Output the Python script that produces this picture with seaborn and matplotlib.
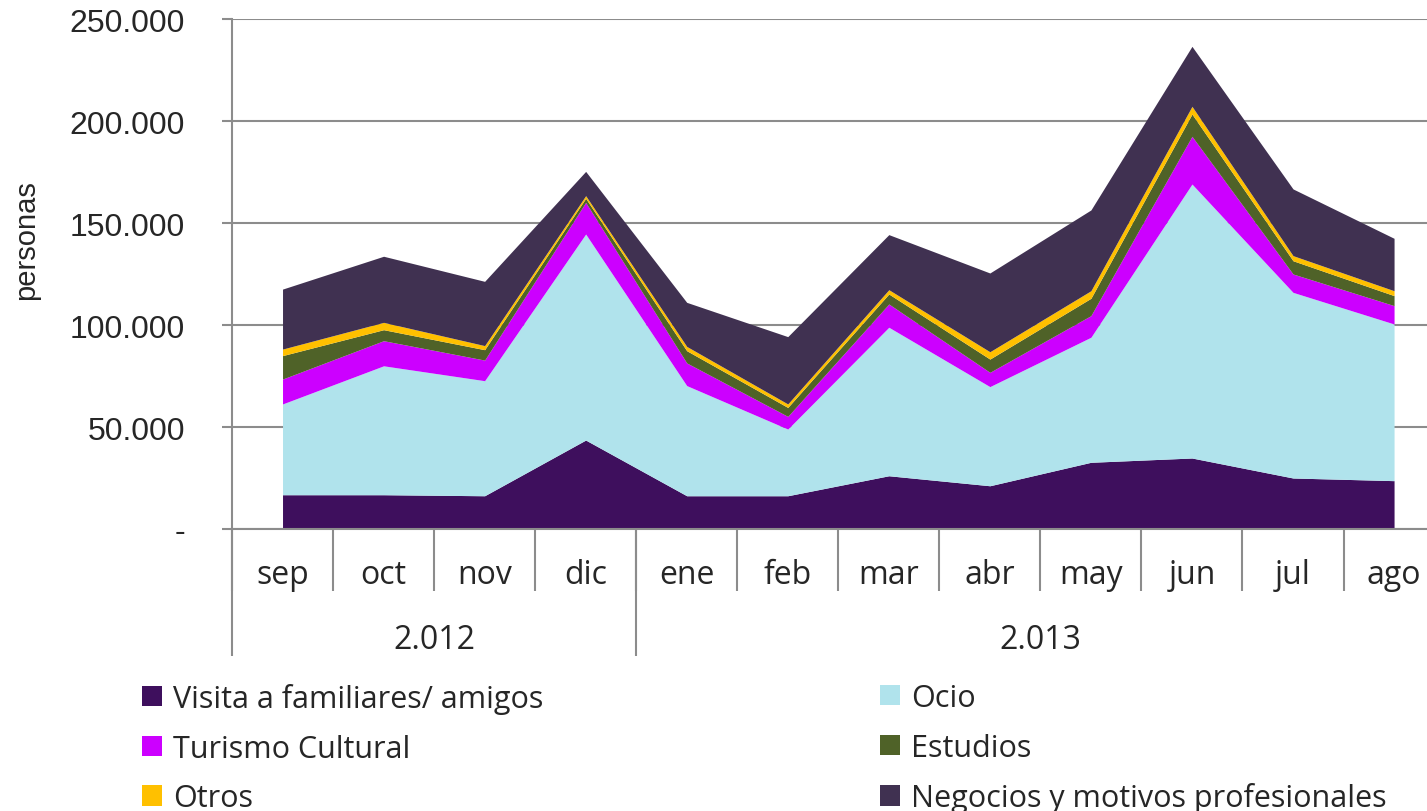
import numpy as np
import pandas as pd
import matplotlib
matplotlib.use("Agg")
import matplotlib.pyplot as plt
import matplotlib.transforms as mtransforms
from matplotlib.patches import Patch
import seaborn as sns

# datos (personas)
meses = ["sep", "oct", "nov", "dic", "ene", "feb", "mar", "abr", "may", "jun", "jul", "ago"]
anios = ["2.012", "2.013"]
meses_por_anio = [4, 8]

visita = [16800, 16800, 16300, 43600, 16300, 16300, 26100, 21200, 32700, 34800, 25000, 23700]
ocio = [44500, 63200, 56400, 101000, 54000, 32700, 72800, 48600, 61300, 134300, 91000, 76800]
turismo = [12200, 12300, 10100, 15500, 11100, 6200, 11400, 7000, 10600, 23400, 9000, 9000]
estudios = [11500, 5400, 5100, 2000, 6000, 4400, 4900, 6500, 8500, 10900, 6500, 4900]
otros = [3200, 3600, 2000, 1300, 2100, 1700, 2100, 3600, 3700, 3800, 2500, 2400]
negocios = [29400, 32400, 31500, 11900, 21600, 33000, 27000, 38600, 39600, 29400, 32700, 25700]

series = ["Visita a familiares/ amigos", "Ocio", "Turismo Cultural",
          "Estudios", "Otros", "Negocios y motivos profesionales"]
colores = ["#3e0f5d", "#b0e3ec", "#cc00ff", "#4f6228", "#ffc000", "#403151"]

df = pd.DataFrame({
    series[0]: visita, series[1]: ocio, series[2]: turismo,
    series[3]: estudios, series[4]: otros, series[5]: negocios,
}, index=meses)

sns.set_style("white")
plt.rcParams['font.family'] = ['Open Sans', 'DejaVu Sans']
gris = "#8c8c8c"

W, H = 1427, 812
fig = plt.figure(figsize=(W / 100, H / 100), dpi=100)
ax = fig.add_axes([232 / W, 1 - 530 / H, 1 - 232 / W, 510 / H])

x = np.arange(len(meses))
ax.stackplot(x, df.T.values, colors=colores, linewidth=0)

ax.set_xlim(-0.5, 11.326)
ax.set_ylim(0, 250000)
yt = np.arange(0, 250001, 50000)
ax.set_yticks(yt)
ax.set_yticklabels(["-" if v == 0 else f"{v:,.0f}".replace(",", ".") for v in yt],
                   fontfamily="Liberation Sans", fontsize=23)
ax.set_axisbelow(True)
ax.yaxis.grid(True, color=gris, lw=1.5)
ax.tick_params(axis="y", length=7, width=1.5, color=gris, pad=27, left=True)
ax.set_xticks([])
sns.despine(ax=ax, top=True, right=True)
for s in ["left", "bottom"]:
    ax.spines[s].set_color(gris)
    ax.spines[s].set_linewidth(1.5)

# eje de categorias con dos niveles
trans = mtransforms.blended_transform_factory(ax.transData, ax.transAxes)
ax.vlines(np.arange(len(meses) + 1) - 0.5, -0.1216, 0, transform=trans,
          color=gris, lw=1.5, clip_on=False)
limites = np.concatenate([[0], np.cumsum(meses_por_anio)]) - 0.5
ax.vlines(limites, -0.249, 0, transform=trans, color=gris, lw=1.5, clip_on=False)
for i, m in enumerate(meses):
    ax.text(i, -0.090, m, transform=trans, ha="center", va="center", fontsize=23)
for a, ini, fin in zip(anios, limites[:-1], limites[1:]):
    ax.text((ini + fin) / 2, -0.216, a, transform=trans, ha="center", va="center",
            fontsize=23)

fig.text(26 / W, 1 - 240 / H, "personas", rotation=90, ha="center", va="center",
         fontfamily="Liberation Sans", fontsize=21)

# leyenda en dos columnas
handles = [Patch(facecolor=c, edgecolor="none") for c in colores]
kw = dict(frameon=False, fontsize=22, handlelength=0.65, handleheight=0.65,
          handletextpad=0.36, labelspacing=0.64, borderpad=0, borderaxespad=0,
          loc="upper left")
fig.legend([handles[0], handles[2], handles[4]], [series[0], series[2], series[4]],
           bbox_to_anchor=(142 / W, 1 - 684 / H), **kw)
fig.legend([handles[1], handles[3], handles[5]], [series[1], series[3], series[5]],
           bbox_to_anchor=(880 / W, 1 - 684 / H), **kw)

fig.savefig("out.png", dpi=100)
